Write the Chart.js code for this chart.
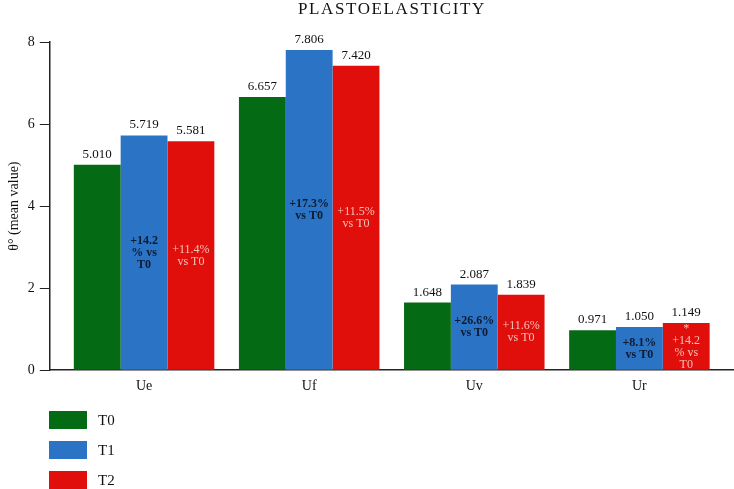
<!DOCTYPE html>
<html>
<head>
<meta charset="utf-8">
<script src="https://cdn.jsdelivr.net/npm/chart.js@4"></script>
<style>
  html, body { margin: 0; padding: 0; background: #fff; }
  #wrap { width: 734px; height: 489px; }
</style>
</head>
<body>
<div id="wrap"><canvas id="plastoChart" width="734" height="489"></canvas></div>
<script>
const categories = ['Ue', 'Uf', 'Uv', 'Ur'];
const seriesNames = ['T0', 'T1', 'T2'];
const t0Values = [5.010, 6.657, 1.648, 0.971];
const t1Values = [5.719, 7.806, 2.087, 1.050];
const t2Values = [5.581, 7.420, 1.839, 1.149];
const t1Notes = ['+14.2\n% vs\nT0', '+17.3%\nvs T0', '+26.6%\nvs T0', '+8.1%\nvs T0'];
const t2Notes = ['+11.4%\nvs T0', '+11.5%\nvs T0', '+11.6%\nvs T0', '*\n+14.2\n% vs\nT0'];
const yTicks = [0, 2, 4, 6, 8];
const chartTitle = 'PLASTOELASTICITY';

const colors = ['#056a14', '#2b74c5', '#e10f0b'];
const serif = '"Liberation Serif", "DejaVu Serif", serif';

const ctx = document.getElementById('plastoChart').getContext('2d');

const toPoints = vals => vals.map((v, i) => ({ x: i, y: v }));

// value labels above bars + notes inside T1 / T2 bars
const barText = {
    id: 'barText',
    afterDatasetsDraw(chart) {
        const c = chart.ctx;
        c.save();
        c.textAlign = 'center';
        chart.data.datasets.forEach((ds, di) => {
            const meta = chart.getDatasetMeta(di);
            meta.data.forEach((bar, i) => {
                c.fillStyle = '#111';
                c.font = '13px ' + serif;
                c.textBaseline = 'bottom';
                c.fillText(ds.data[i].y.toFixed(3), bar.x, bar.y - 4);

                const note = di === 1 ? t1Notes[i] : di === 2 ? t2Notes[i] : null;
                if (!note) return;
                const lines = note.split('\n');
                const lh = 12;
                const mid = (bar.y + bar.base) / 2;
                let y = mid - (lines.length - 1) * lh / 2;
                c.textBaseline = 'middle';
                c.font = (di === 1 ? 'bold ' : '') + '12px ' + serif;
                c.fillStyle = di === 1 ? '#0e1a30' : '#f5c2ba';
                lines.forEach(l => { c.fillText(l, bar.x, y); y += lh; });
            });
        });
        c.restore();
    }
};

// title over the plot area + vertical legend under it
const extras = {
    id: 'extras',
    afterDraw(chart) {
        const c = chart.ctx;
        const area = chart.chartArea;
        c.save();
        c.fillStyle = '#111';
        c.font = '17px ' + serif;
        c.letterSpacing = '1.6px';
        c.textAlign = 'center';
        c.textBaseline = 'alphabetic';
        c.fillText(chartTitle, (area.left + area.right) / 2, 14);
        c.letterSpacing = '0px';

        c.font = '15px ' + serif;
        c.textBaseline = 'middle';
        c.textAlign = 'left';
        seriesNames.forEach((name, i) => {
            const y = 411 + i * 30;
            c.fillStyle = colors[i];
            c.fillRect(49, y, 38, 18);
            c.fillStyle = '#111';
            c.fillText(name, 98, y + 10);
        });
        c.restore();
    }
};

new Chart(ctx, {
    type: 'bar',
    data: {
        datasets: [
            { label: seriesNames[0], data: toPoints(t0Values), backgroundColor: colors[0] },
            { label: seriesNames[1], data: toPoints(t1Values), backgroundColor: colors[1] },
            { label: seriesNames[2], data: toPoints(t2Values), backgroundColor: colors[2] }
        ]
    },
    options: {
        responsive: false,
        animation: false,
        layout: { padding: { top: 42, right: 0, bottom: 94, left: 0 } },
        datasets: { bar: { categoryPercentage: 0.851, barPercentage: 1.0 } },
        plugins: {
            legend: { display: false },
            tooltip: { enabled: false },
            title: { display: false }
        },
        scales: {
            x: {
                type: 'linear',
                offset: false,
                min: -0.571,
                max: 3.573,
                afterBuildTicks(axis) { axis.ticks = categories.map((_, i) => ({ value: i })); },
                grid: { display: false, offset: false },
                border: { color: '#222', width: 1.5 },
                ticks: {
                    color: '#111',
                    font: { family: serif, size: 14 },
                    padding: 0,
                    callback: v => categories[v]
                }
            },
            y: {
                min: 0,
                max: 8,
                afterBuildTicks(axis) { axis.ticks = yTicks.map(v => ({ value: v })); },
                grid: { drawOnChartArea: false, drawTicks: true, tickLength: 10, color: '#222' },
                border: { color: '#222', width: 1.5 },
                ticks: { color: '#111', font: { family: serif, size: 14 }, padding: 5 },
                title: {
                    display: true,
                    text: 'θ° (mean value)',
                    color: '#111',
                    font: { family: serif, size: 14 },
                    padding: { top: 6, bottom: 0 }
                }
            }
        }
    },
    plugins: [barText, extras]
});
</script>
</body>
</html>
